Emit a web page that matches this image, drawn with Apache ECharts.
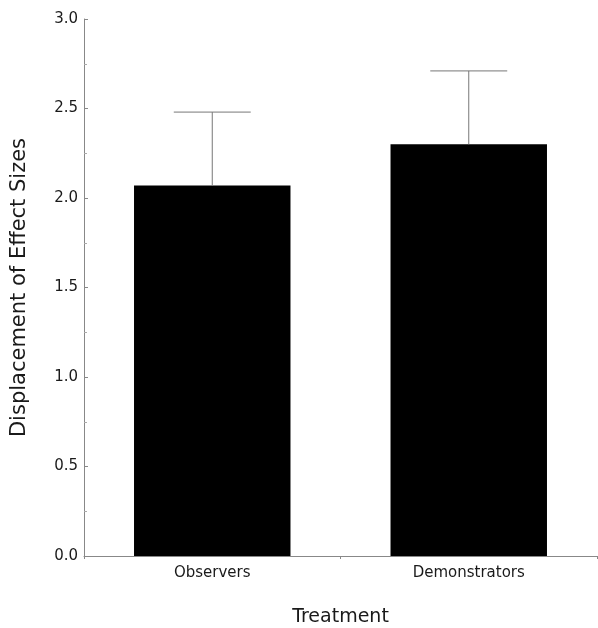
<!DOCTYPE html>
<html>
<head>
<meta charset="utf-8">
<script src="https://cdn.jsdelivr.net/npm/echarts@6/dist/echarts.min.js"></script>
<style>
  html, body { margin: 0; padding: 0; background: #fff; }
  #chart { width: 598px; height: 628px; }
</style>
</head>
<body>
<div id="chart"></div>
<script>
// data
var categories = ['Observers', 'Demonstrators'];
var means = [2.07, 2.30];
var upperErr = [2.48, 2.71];

var chart = echarts.init(document.getElementById('chart'));

var errData = categories.map(function (c, i) {
    return [i, means[i], upperErr[i]];
});

var font = 'DejaVu Sans';

chart.setOption({
    animation: false,
    grid: { left: 84, right: 1, top: 19, bottom: 72, outerBoundsMode: 'none' },
    xAxis: {
        type: 'category',
        data: categories,
        name: 'Treatment',
        nameLocation: 'middle',
        nameGap: 61,
        nameTextStyle: { fontFamily: font, fontSize: 19, color: '#1a1a1a', verticalAlign: 'middle' },
        axisLine: { lineStyle: { color: '#888', width: 1 } },
        axisTick: { show: true, inside: false, length: 3, lineStyle: { color: '#888' } },
        axisLabel: { fontFamily: font, fontSize: 15, color: '#1a1a1a', margin: 10 }
    },
    yAxis: {
        type: 'value',
        min: 0,
        max: 3,
        interval: 0.5,
        name: 'Displacement of Effect Sizes',
        nameLocation: 'middle',
        nameGap: 64,
        nameTextStyle: { fontFamily: font, fontSize: 21, color: '#1a1a1a', verticalAlign: 'middle' },
        splitLine: { show: false },
        axisLine: { show: true, lineStyle: { color: '#888', width: 1 } },
        axisTick: { show: true, inside: true, length: 4, lineStyle: { color: '#888' } },
        minorTick: { show: true, splitNumber: 2, length: 3, lineStyle: { color: '#aaa' } },
        axisLabel: {
            fontFamily: font, fontSize: 15, color: '#1a1a1a', margin: 6,
            formatter: function (v) { return v.toFixed(1); }
        }
    },
    series: [
        {
            type: 'bar',
            data: means,
            barWidth: '61%',
            itemStyle: { color: '#000' },
            z: 2
        },
        {
            type: 'custom',
            data: errData,
            z: 3,
            renderItem: function (params, api) {
                var x = api.value(0);
                var top = api.coord([x, api.value(2)]);
                var base = api.coord([x, api.value(1)]);
                var half = api.size([1, 0])[0] * 0.15;
                var style = { stroke: '#777', lineWidth: 1 };
                return {
                    type: 'group',
                    children: [
                        { type: 'line', shape: { x1: top[0], y1: base[1], x2: top[0], y2: top[1] }, style: style },
                        { type: 'line', shape: { x1: top[0] - half, y1: top[1], x2: top[0] + half, y2: top[1] }, style: style }
                    ]
                };
            }
        }
    ]
});
</script>
</body>
</html>
